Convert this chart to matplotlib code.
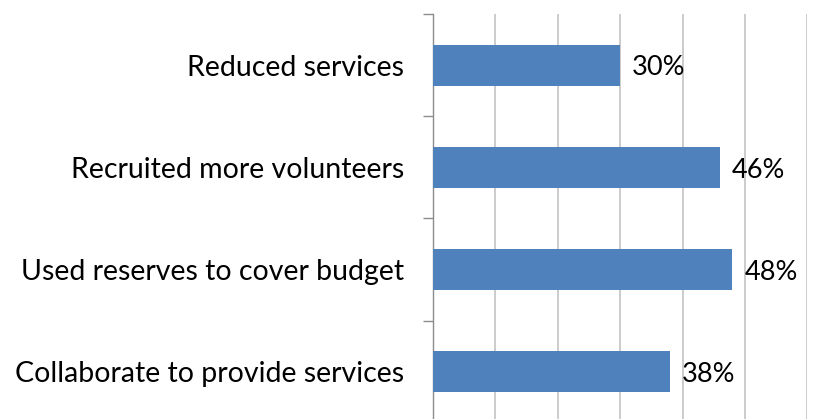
import matplotlib
matplotlib.use("Agg")
import matplotlib.pyplot as plt

categories = ["Reduced services", "Recruited more volunteers",
              "Used reserves to cover budget", "Collaborate to provide services"]
values = [30, 46, 48, 38]
value_labels = ["30%", "46%", "48%", "38%"]

plt.rcParams['font.family'] = ['Lato', 'DejaVu Sans']

W, H = 817, 419
fig = plt.figure(figsize=(W/100, H/100), dpi=100)
left, right = 433/W, 807.3/W
top, bottom = 1-14/H, (H-422.7)/H
ax = fig.add_axes([left, bottom, right-left, top-bottom])

ypos = list(range(len(categories)))
ax.barh(ypos, values, height=0.4, color="#4F81BD", zorder=3)
ax.set_xlim(0, 60)
ax.set_ylim(3.5, -0.5)

ax.set_xticks(range(0, 61, 10))
ax.tick_params(axis='x', length=0, labelbottom=False)
ax.grid(axis='x', color="#c4c4c4", linewidth=1.2, zorder=0)

ax.set_yticks(ypos)
ax.set_yticklabels(categories, fontsize=20.5)
ax.set_yticks([-0.5, 0.5, 1.5, 2.5, 3.5], minor=True)
ax.tick_params(axis='y', which='major', length=0, pad=21)
ax.tick_params(axis='y', which='minor', length=7.5, width=1, color="#8c8c8c")

for s in ['top', 'right', 'bottom']:
    ax.spines[s].set_visible(False)
ax.spines['left'].set_color("#8c8c8c")
ax.spines['left'].set_linewidth(1)

for y, v, lab in zip(ypos, values, value_labels):
    ax.annotate(lab, (v, y), xytext=(8.5, -2), textcoords='offset points',
                va='center', ha='left', fontsize=19.5, zorder=4)

fig.savefig("out.png", dpi=100)
